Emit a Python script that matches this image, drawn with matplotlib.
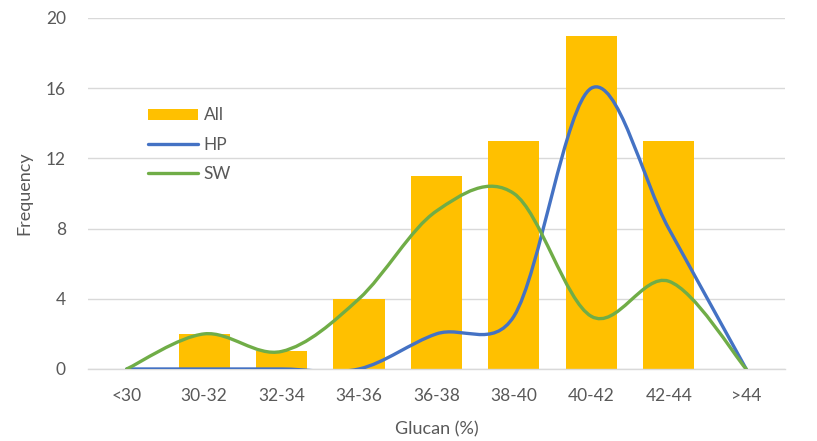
import matplotlib
matplotlib.use("Agg")
import matplotlib.pyplot as plt
import numpy as np
from matplotlib.path import Path
from matplotlib.patches import PathPatch, Patch
from matplotlib.lines import Line2D

categories = ["<30", "30-32", "32-34", "34-36", "36-38", "38-40", "40-42", "42-44", ">44"]
all_counts = [0, 2, 1, 4, 11, 13, 19, 13, 0]
hp_counts = [0, 0, 0, 0, 2, 3, 16, 8, 0]
sw_counts = [0, 2, 1, 4, 9, 10, 3, 5, 0]

GOLD = "#FFC000"
BLUE = "#4472C4"
GREEN = "#70AD47"
TEXT = "#595959"
GRID = "#D9D9D9"

plt.rcParams["font.family"] = ["Lato", "DejaVu Sans"]


def smooth_path(ax, xs, ys):
    """Excel-style smoothed line: cubic Bezier through each point,
    with handles shortened where neighbouring segments are much longer."""
    pts = np.column_stack([xs, ys]).astype(float)
    scr = ax.transData.transform(pts)
    n = len(pts)
    verts = [pts[0]]
    codes = [Path.MOVETO]
    for i in range(n - 1):
        i0 = max(i - 1, 0)
        i3 = min(i + 2, n - 1)
        d12 = np.hypot(*(scr[i + 1] - scr[i]))
        d02 = np.hypot(*(scr[i + 1] - scr[i0]))
        d13 = np.hypot(*(scr[i3] - scr[i]))
        f0 = min(1 / 6, d12 / (2 * d02)) if d02 > 0 else 0
        f1 = min(1 / 6, d12 / (2 * d13)) if d13 > 0 else 0
        c1 = pts[i] + (pts[i + 1] - pts[i0]) * f0
        c2 = pts[i + 1] - (pts[i3] - pts[i]) * f1
        verts += [c1, c2, pts[i + 1]]
        codes += [Path.CURVE4] * 3
    return Path(verts, codes)


fig = plt.figure(figsize=(8.17, 4.41), dpi=100)
ax = fig.add_axes([0.1077, 0.1633, 0.853, 0.7959])

x = np.arange(len(categories))
ax.bar(x, all_counts, width=0.66, color=GOLD, zorder=2)

ax.set_xlim(-0.5, len(categories) - 0.5)
ax.set_ylim(0, 20)

for vals, color in ((hp_counts, BLUE), (sw_counts, GREEN)):
    ax.add_patch(PathPatch(smooth_path(ax, x, vals), facecolor="none", edgecolor=color,
                           linewidth=2.4, capstyle="round", zorder=3))

ax.set_yticks([0, 4, 8, 12, 16, 20])
ax.set_xticks(x)
ax.set_xticklabels(categories)
ax.yaxis.grid(True, color=GRID, linewidth=1.0, zorder=0)
ax.set_axisbelow(True)
for side in ("top", "right", "left"):
    ax.spines[side].set_visible(False)
ax.spines["bottom"].set_color(GRID)
ax.spines["bottom"].set_linewidth(1.0)
ax.tick_params(axis="both", length=0, colors=TEXT, labelsize=12.5)
ax.tick_params(axis="x", pad=14)
ax.tick_params(axis="y", pad=16)

ax.set_xlabel("Glucan (%)", color=TEXT, fontsize=13, labelpad=12)
ax.set_ylabel("Frequency", color=TEXT, fontsize=13, labelpad=10)

handles = [
    Patch(facecolor=GOLD, edgecolor="none"),
    Line2D([0], [0], color=BLUE, linewidth=2.4, solid_capstyle="round"),
    Line2D([0], [0], color=GREEN, linewidth=2.4, solid_capstyle="round"),
]
leg = ax.legend(handles, ["All", "HP", "SW"], loc="upper left", bbox_to_anchor=(0.086, 0.745),
                frameon=False, fontsize=12.5, handlelength=2.9, handleheight=0.65,
                handletextpad=0.3, labelspacing=0.75, borderpad=0, borderaxespad=0)
for t in leg.get_texts():
    t.set_color(TEXT)

fig.savefig("out.png", dpi=100)
